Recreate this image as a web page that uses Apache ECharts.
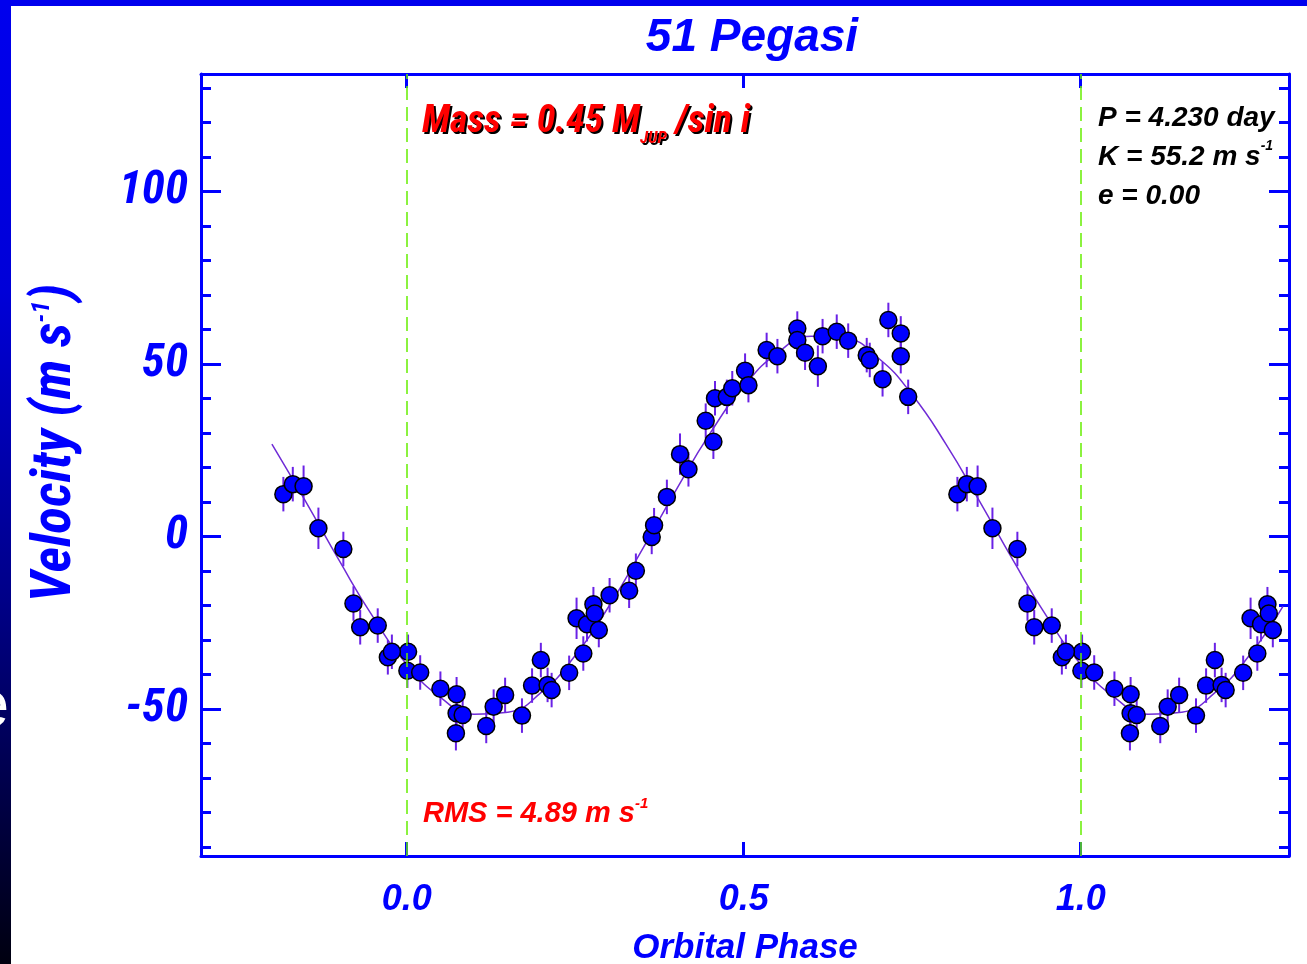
<!DOCTYPE html>
<html><head><meta charset="utf-8">
<script src="https://cdn.jsdelivr.net/npm/echarts@6/dist/echarts.min.js"></script>
<style>html,body{margin:0;padding:0;background:#fff;overflow:hidden}#c{width:1307px;height:964px}</style>
</head><body><div id="c"></div>
<script>
// ---- data ----
const phases = [0.002,0.001,0.020,0.050,0.074,0.074,0.083,0.073,0.118,0.129,0.146,0.171,0.186,0.199,0.209,0.215,
  0.241,0.252,0.262,0.2675,0.277,0.279,0.285,0.301,0.330,0.340,0.3635,0.367,0.386,0.4055,0.418,0.4436,0.455,0.4574,
  0.475,0.483,0.502,0.507,0.534,0.550,0.5795,0.5795,0.591,0.610,0.617,0.638,0.655,0.6825,0.687,0.706,0.7146,0.733,
  0.733,0.744,0.817,0.831,0.847,0.869,0.906,0.921,0.931,0.957,0.972,0.978];
const velocities = [-33.4,-38.9,-39.4,-44.1,-45.7,-51.2,-51.7,-57.0,-54.9,-49.3,-45.9,-51.9,-43.2,-35.8,-43.0,-44.5,
  -39.5,-23.7,-33.9,-25.4,-19.6,-22.3,-27.1,-17.0,-15.7,-9.9,-0.1,3.3,11.5,23.9,19.5,33.6,27.5,40.1,
  40.5,43.0,48.1,43.9,54.1,52.3,60.3,57.0,53.3,49.4,58.1,59.4,56.8,52.6,51.2,45.6,62.8,58.9,
  52.3,40.5,12.3,15.2,14.6,2.4,-3.6,-19.4,-26.3,-25.8,-35.0,-33.4];
const errors = [5,5,5,5,5,5,5,5,5,5,5,5,5,5,5,5,
  5,6,5,5,5,5,5,5,5,5,5,5,5,6,5,5,5,5,
  5,5,5,5,5,5,5,5,5,6,5,5,5,5,5,5,5,5,
  5,5,5,5,6,6,5,5,5,5,5,5];
const curvePhase = [-0.2,-0.15,-0.1,-0.05,0.0,0.05,0.1,0.15,0.2,0.25,0.3,0.35,0.4,0.45,0.5,0.55,0.6,0.65,0.7,0.75,
  0.8,0.85,0.9,0.95,1.0,1.05,1.1,1.15,1.2,1.25,1.3];
const curveVel = [26.8,10.2,-7.0,-23.3,-37.0,-46.6,-51.5,-50.9,-45.1,-34.5,-20.2,-3.6,13.6,29.9,43.5,53.2,58.1,57.5,51.7,41.1,
  26.8,10.2,-7.0,-23.3,-37.0,-46.6,-51.5,-50.9,-45.1,-34.5,-20.2];
const xTickValues = [0, 0.5, 1.0];
const yMajorValues = [-50, 0, 50, 100];
const yMinorValues = [-90,-80,-70,-60,-40,-30,-20,-10,10,20,30,40,60,70,80,90,110,120,130];
const dashedPhases = [0, 1];
const shownPhaseRange = [-0.2, 1.3];

// ---- observations plotted over the shown phase range (each observation repeats every cycle) ----
const points = [];
phases.forEach((p, i) => {
  [-1, 0, 1].forEach(k => {
    const q = p + k;
    if (q >= shownPhaseRange[0] && q <= shownPhaseRange[1]) points.push([q, velocities[i], errors[i]]);
  });
});
const curve = curvePhase.map((p, i) => [p, curveVel[i]]);

const BLUE = '#0000ff';
const FF = '"Liberation Sans", Arial, sans-serif';
const FC = '"Roboto Condensed", "Liberation Sans", sans-serif';

const chart = echarts.init(document.getElementById('c'), null, {renderer: 'canvas'});
const axisCommon = {type: 'value', min: -92.6, max: 134.1, splitLine: {show: false}};
const xCommon = {type: 'value', min: -0.3052, max: 1.309, splitLine: {show: false}};
const line3 = {color: BLUE, width: 3};
const shadow = {textShadowColor: '#000', textShadowOffsetX: 2, textShadowOffsetY: 2, textShadowBlur: 0.6};
const option = {
  animation: false,
  backgroundColor: '#ffffff',
  title: {
    text: '51 Pegasi', left: 747, top: 10, textAlign: 'center',
    textStyle: {color: BLUE, fontSize: 46, fontWeight: 'bold', fontStyle: 'italic', fontFamily: FF}
  },
  grid: {left: 201, top: 74, width: 1088, height: 782, outerBoundsMode: 'none'},
  xAxis: [
    Object.assign({}, xCommon, {
      position: 'bottom',
      axisLine: {show: true, onZero: false, lineStyle: line3},
      axisTick: {show: true, inside: true, length: 14, customValues: xTickValues, lineStyle: line3},
      axisLabel: {show: true, customValues: xTickValues, margin: 26, formatter: v => v.toFixed(1),
        color: BLUE, fontSize: 36, fontWeight: 'bold', fontStyle: 'italic', fontFamily: FF},
      name: 'Orbital Phase', nameLocation: 'middle', nameGap: 75,
      nameTextStyle: {color: BLUE, fontSize: 35, fontWeight: 'bold', fontStyle: 'italic', fontFamily: FF}
    }),
    Object.assign({}, xCommon, {
      position: 'top',
      axisLine: {show: true, onZero: false, lineStyle: line3},
      axisTick: {show: true, inside: true, length: 14, customValues: xTickValues, lineStyle: line3},
      axisLabel: {show: false}
    })
  ],
  yAxis: [
    Object.assign({}, axisCommon, {
      position: 'left',
      axisLine: {show: true, onZero: false, lineStyle: line3},
      axisTick: {show: true, inside: true, length: 20, customValues: yMajorValues, lineStyle: line3},
      axisLabel: {show: true, customValues: yMajorValues, margin: 13,
        color: BLUE, fontSize: 47, fontWeight: 'bold', fontStyle: 'italic', fontFamily: FC},
      name: 'Velocity (m s{sup|-1})', nameLocation: 'middle', nameRotate: 90, nameGap: 117,
      nameTextStyle: {color: BLUE, fontSize: 55, fontWeight: 'bold', fontStyle: 'italic', fontFamily: FC,
        padding: [0, 0, 0, 44],
        rich: {sup: {color: BLUE, fontSize: 26, fontWeight: 'bold', fontStyle: 'italic', fontFamily: FC, verticalAlign: 'top'}}}
    }),
    Object.assign({}, axisCommon, {
      position: 'left',
      axisLine: {show: false, onZero: false},
      axisTick: {show: true, inside: true, length: 10, customValues: yMinorValues, lineStyle: line3},
      axisLabel: {show: false}
    }),
    Object.assign({}, axisCommon, {
      position: 'right',
      axisLine: {show: true, onZero: false, lineStyle: line3},
      axisTick: {show: true, inside: true, length: 20, customValues: yMajorValues, lineStyle: line3},
      axisLabel: {show: false}
    }),
    Object.assign({}, axisCommon, {
      position: 'right',
      axisLine: {show: false, onZero: false},
      axisTick: {show: true, inside: true, length: 10, customValues: yMinorValues, lineStyle: line3},
      axisLabel: {show: false}
    })
  ],
  series: [
    {
      name: 'fit', type: 'line', data: curve, smooth: true, showSymbol: false, symbol: 'none', silent: true, z: 1,
      lineStyle: {color: '#6f2bd6', width: 1.5},
      markLine: {
        silent: true, symbol: ['none', 'none'], label: {show: false}, animation: false,
        lineStyle: {color: '#66ee00', type: [14, 7], width: 1.5},
        data: dashedPhases.map(p => ({xAxis: p}))
      }
    },
    {
      name: 'errors', type: 'custom', data: points, silent: true, z: 2,
      encode: {x: 0, y: 1},
      renderItem: (params, api) => {
        const x = api.value(0), v = api.value(1), e = api.value(2);
        const p1 = api.coord([x, v - e]), p2 = api.coord([x, v + e]);
        return {type: 'line', shape: {x1: p1[0], y1: p1[1], x2: p2[0], y2: p2[1]},
          style: {stroke: '#6a22e6', lineWidth: 2}};
      }
    },
    {
      name: 'velocity', type: 'scatter', data: points, symbol: 'circle', symbolSize: 17, silent: true, z: 3,
      itemStyle: {color: '#0000ff', borderColor: '#000000', borderWidth: 1.5, opacity: 1}
    }
  ],
  graphic: [
    {type: 'rect', left: 0, top: 0, z: 100, shape: {width: 11, height: 964},
      style: {fill: new echarts.graphic.LinearGradient(0, 0, 0, 1, [
        {offset: 0, color: '#0000ee'}, {offset: 0.3, color: '#0000d8'}, {offset: 0.62, color: '#000088'}, {offset: 1, color: '#000010'}])}},
    {type: 'rect', left: 0, top: 0, z: 100, shape: {width: 1307, height: 6}, style: {fill: '#0000ee'}},
    {type: 'text', x: 9, y: 708, z: 101, style: {text: 'e', fill: '#ffffff', align: 'right', verticalAlign: 'middle',
      font: '64px "Liberation Sans", Arial, sans-serif'}},
    {type: 'text', x: 422, y: 122, z: 50, style: Object.assign({
      text: '{m|Mass = 0.45 M}{s|JUP}{m| /sin i}', verticalAlign: 'middle',
      rich: {
        m: Object.assign({fill: '#ff0000', fontSize: 38, fontWeight: 'bold', fontStyle: 'italic', fontFamily: FC, lineHeight: 50}, shadow),
        s: Object.assign({fill: '#ff0000', fontSize: 17, fontWeight: 'bold', fontStyle: 'italic', fontFamily: FC, verticalAlign: 'bottom'}, shadow)
      }}, shadow)},
    {type: 'text', x: 423, y: 814, z: 50, style: {
      text: '{m|RMS = 4.89 m s}{s|-1}', verticalAlign: 'middle',
      rich: {
        m: {fill: '#ff0000', fontSize: 29, fontWeight: 'bold', fontStyle: 'italic', fontFamily: FF, lineHeight: 36},
        s: {fill: '#ff0000', fontSize: 15, fontWeight: 'bold', fontStyle: 'italic', fontFamily: FF, verticalAlign: 'top'}
      }}},
    {type: 'text', x: 1098, y: 118, z: 50, style: {text: 'P = 4.230 day', verticalAlign: 'middle', fill: '#000',
      font: 'italic bold 28px "Liberation Sans", Arial, sans-serif'}},
    {type: 'text', x: 1098, y: 157, z: 50, style: {
      text: '{m|K = 55.2 m s}{s|-1}', verticalAlign: 'middle',
      rich: {
        m: {fill: '#000', fontSize: 28, fontWeight: 'bold', fontStyle: 'italic', fontFamily: FF, lineHeight: 36},
        s: {fill: '#000', fontSize: 14, fontWeight: 'bold', fontStyle: 'italic', fontFamily: FF, verticalAlign: 'top'}
      }}},
    {type: 'text', x: 1098, y: 196, z: 50, style: {text: 'e = 0.00', verticalAlign: 'middle', fill: '#000',
      font: 'italic bold 28px "Liberation Sans", Arial, sans-serif'}}
  ]
};
chart.setOption(option);
</script>
</body></html>
